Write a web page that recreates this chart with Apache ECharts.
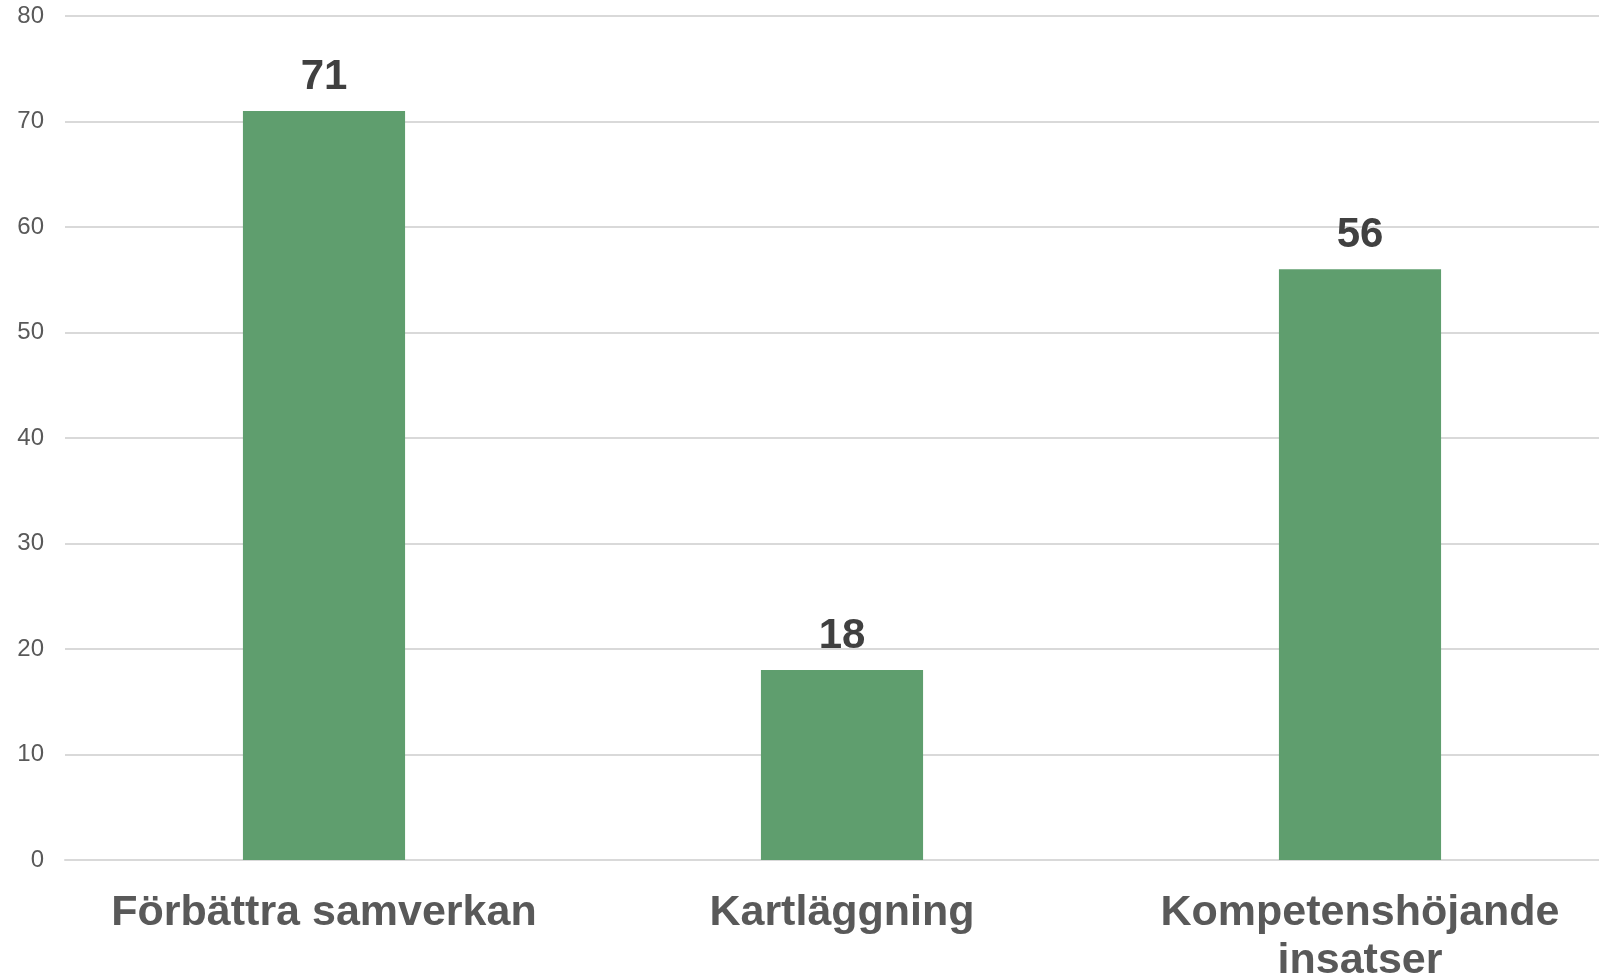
<!DOCTYPE html>
<html><head><meta charset="utf-8">
<script src="https://cdn.jsdelivr.net/npm/echarts@6/dist/echarts.min.js"></script>
<style>html,body{margin:0;padding:0;background:#fff}#c{width:1599px;height:979px}</style>
</head><body><div id="c"></div>
<script>
const categories = ["Förbättra samverkan", "Kartläggning", "Kompetenshöjande\ninsatser"];
const values = [71, 18, 56];
const yTicks = [0, 10, 20, 30, 40, 50, 60, 70, 80];

const chart = echarts.init(document.getElementById('c'), null, {renderer: 'canvas'});
chart.setOption({
  animation: false,
  textStyle: {fontFamily: 'Liberation Sans, Arial, sans-serif'},
  grid: {left: 65, right: -20, top: 16, bottom: 119, containLabel: false, outerBoundsMode: 'none'},
  xAxis: {
    type: 'category',
    data: categories,
    axisLine: {show: true, lineStyle: {color: '#d9d9d9', width: 2}},
    axisTick: {show: false},
    axisLabel: {
      interval: 0, hideOverlap: false,
      color: '#595959', fontSize: 43, fontWeight: 'bold', margin: 29, lineHeight: 48,
      fontFamily: 'Liberation Sans, Arial, sans-serif'
    }
  },
  yAxis: {
    type: 'value',
    min: yTicks[0], max: yTicks[yTicks.length - 1], interval: 10,
    axisLine: {show: false},
    axisTick: {show: false},
    splitLine: {lineStyle: {color: '#d9d9d9', width: 2}},
    axisLabel: {color: '#595959', fontSize: 24, margin: 21, padding: [4, 0, 0, 0],
      fontFamily: 'Liberation Sans, Arial, sans-serif'}
  },
  series: [{
    type: 'bar',
    data: values,
    barWidth: '31.3%',
    itemStyle: {color: '#5F9E6E'},
    label: {
      show: true, position: 'top', distance: 13,
      color: '#404040', fontSize: 42, fontWeight: 'bold',
      fontFamily: 'Liberation Sans, Arial, sans-serif'
    }
  }]
});
</script></body></html>
